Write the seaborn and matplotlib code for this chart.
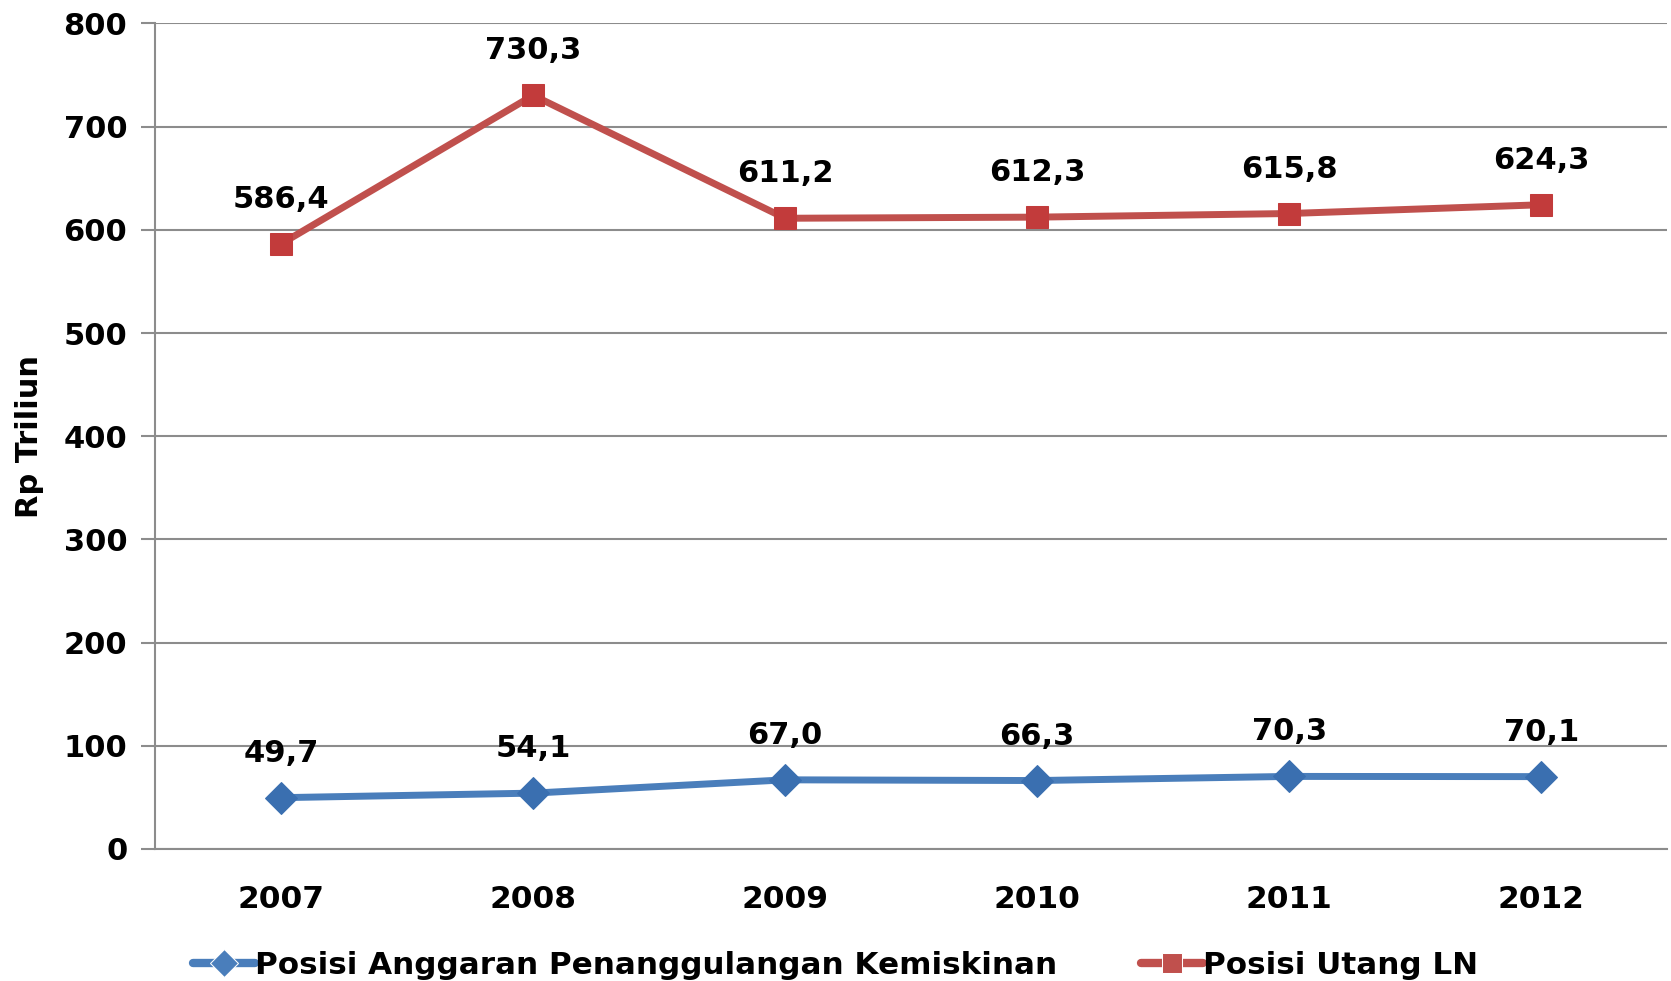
import numpy as np
import pandas as pd
import seaborn as sns
import matplotlib.pyplot as plt
from matplotlib.ticker import FixedLocator

# Data
tahun = ['2007', '2008', '2009', '2010', '2011', '2012']
anggaran = [49.7, 54.1, 67.0, 66.3, 70.3, 70.1]
utang_ln = [586.4, 730.3, 611.2, 612.3, 615.8, 624.3]
nama_anggaran = 'Posisi Anggaran Penanggulangan Kemiskinan'
nama_utang = 'Posisi Utang LN'

df = pd.DataFrame({'tahun': tahun * 2,
                   'nilai': anggaran + utang_ln,
                   'seri': [nama_anggaran] * len(tahun) + [nama_utang] * len(tahun)})

sns.set_style('white')
plt.rcParams['font.family'] = ['DejaVu Sans']
plt.rcParams['font.weight'] = 'bold'
plt.rcParams['text.color'] = 'black'
plt.rcParams['axes.labelcolor'] = 'black'
plt.rcParams['xtick.labelcolor'] = 'black'
plt.rcParams['ytick.labelcolor'] = 'black'

fig = plt.figure(figsize=(16.71, 9.81), dpi=100)
ax = fig.add_axes([0.0928, 0.1346, 0.905, 0.8415])

warna = {nama_anggaran: '#4A7EBB', nama_utang: '#C0504D'}
sns.lineplot(data=df, x='tahun', y='nilai', hue='seri', style='seri',
             palette=warna, markers={nama_anggaran: 'D', nama_utang: 's'},
             dashes=False, linewidth=5, markersize=16, ax=ax, legend=True)

# warna marker
for line, c in zip(ax.get_lines()[:2], ['#3A6FB0', '#C23B3B']):
    line.set_markerfacecolor(c)
    line.set_markeredgecolor(c)

# label data
for seri in [anggaran, utang_ln]:
    for i, v in enumerate(seri):
        ax.annotate(f'{v:.1f}'.replace('.', ','), (i, v), xytext=(0, 32),
                    textcoords='offset points', ha='center', va='center',
                    fontsize=22, fontweight='bold')

ax.set_ylim(0, 800)
ax.set_xlim(-0.5, 5.5)
ax.set_yticks(np.arange(0, 801, 100))
ax.yaxis.grid(True, color='#8C8C8C', linewidth=1.5)
ax.set_axisbelow(True)
ax.xaxis.set_minor_locator(FixedLocator(np.arange(-0.5, 6, 1)))
ax.tick_params(axis='x', which='major', length=0, labelsize=22.5, pad=26)
ax.tick_params(axis='x', which='minor', length=10, width=1.5, color='#8C8C8C',
               direction='out')
ax.tick_params(axis='y', length=10, width=1.5, color='#8C8C8C', labelsize=22, pad=10,
               direction='out', left=True)
for lab in ax.get_xticklabels() + ax.get_yticklabels():
    lab.set_fontweight('bold')

for s in ['top', 'right']:
    ax.spines[s].set_visible(False)
for s in ['left', 'bottom']:
    ax.spines[s].set_color('#8C8C8C')
    ax.spines[s].set_linewidth(1.5)

ax.set_xlabel('')
ax.set_ylabel('Rp Triliun', fontsize=22, fontweight='bold', labelpad=14)

handles, labels = ax.get_legend_handles_labels()
for h in handles:
    h.set_markersize(14)
    h.set_linewidth(6)
leg = ax.legend(handles, labels, loc='center', bbox_to_anchor=(0.5, 0.016),
                bbox_transform=fig.transFigure, ncol=2, frameon=False,
                prop={'size': 22.3, 'weight': 'bold'}, handlelength=2.0,
                handletextpad=0.0, columnspacing=2.7)

fig.savefig('out.png', dpi=100)
